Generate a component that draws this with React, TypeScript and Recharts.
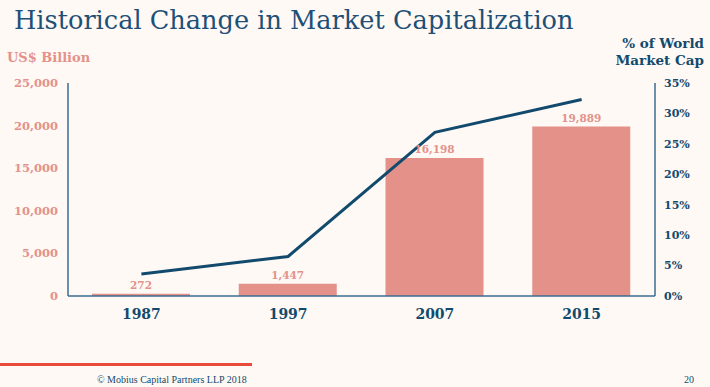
import { Bar, ComposedChart, LabelList, Line, XAxis, YAxis } from "recharts";

const years = ["1987", "1997", "2007", "2015"];
const marketCap = [272, 1447, 16198, 19889];
const worldShare = [3.6, 6.5, 26.9, 32.3];

const capTicks = [0, 5000, 10000, 15000, 20000, 25000];
const shareTicks = [0, 5, 10, 15, 20, 25, 30, 35];

const data = years.map((year, i) => ({ year, cap: marketCap[i], share: worldShare[i] }));

const BG = "#fef9f5";
const SALMON = "#e4918a";
const NAVY = "#124a6e";
const AXIS = "#3d6d90";
const SERIF = "'DejaVu Serif', serif";
const FOOT = "'Liberation Serif', serif";

const fmt = (v: number) => v.toLocaleString("en-US");

const App = () => (
  <div
    style={{
      position: "absolute",
      left: 0,
      top: 0,
      width: 710,
      height: 387,
      background: BG,
      fontFamily: SERIF,
      overflow: "hidden"
    }}
  >
    <div
      style={{
        position: "absolute",
        left: 14,
        top: 5,
        fontSize: 26,
        lineHeight: "30px",
        color: "#1e5077",
        whiteSpace: "nowrap",
        transform: "scaleX(0.985)",
        transformOrigin: "left top"
      }}
    >
      Historical Change in Market Capitalization
    </div>
    <div
      style={{
        position: "absolute",
        left: 7,
        top: 50,
        fontSize: 13,
        lineHeight: "16px",
        fontWeight: "bold",
        color: SALMON,
        whiteSpace: "nowrap"
      }}
    >
      US$ Billion
    </div>
    <div
      style={{
        position: "absolute",
        right: 6,
        top: 35,
        fontSize: 13.5,
        fontWeight: "bold",
        color: NAVY,
        textAlign: "right",
        lineHeight: "17px",
        whiteSpace: "nowrap"
      }}
    >
      % of World
      <br />
      Market Cap
    </div>

    <div style={{ position: "absolute", left: 0, top: 0 }}>
      <ComposedChart
        width={710}
        height={387}
        data={data}
        margin={{ top: 83, right: 5, bottom: 61, left: 8 }}
        barSize={98}
      >
        <XAxis
          dataKey="year"
          axisLine={{ stroke: AXIS, strokeWidth: 1.5 }}
          tickLine={false}
          tickMargin={7}
          height={30}
          tick={{ fill: NAVY, fontSize: 14, fontWeight: "bold", fontFamily: SERIF }}
        />
        <YAxis
          yAxisId="cap"
          orientation="left"
          width={60}
          domain={[0, 25000]}
          ticks={capTicks}
          tickFormatter={fmt}
          axisLine={{ stroke: AXIS, strokeWidth: 1.5 }}
          tickLine={false}
          tickMargin={4}
          tick={{ fill: SALMON, fontSize: 11.5, fontWeight: "bold", fontFamily: SERIF }}
        />
        <YAxis
          yAxisId="share"
          orientation="right"
          width={50}
          domain={[0, 35]}
          ticks={shareTicks}
          tickFormatter={(v: number) => `${v}%`}
          axisLine={{ stroke: AXIS, strokeWidth: 1.5 }}
          tickLine={false}
          tickMargin={3}
          tick={{ fill: NAVY, fontSize: 11, fontWeight: "bold", fontFamily: SERIF }}
        />
        <Bar yAxisId="cap" dataKey="cap" fill={SALMON} isAnimationActive={false}>
          <LabelList
            dataKey="cap"
            position="top"
            offset={5}
            formatter={(v: number) => fmt(v)}
            style={{ fill: SALMON, fontSize: 10.5, fontWeight: "bold", fontFamily: SERIF }}
          />
        </Bar>
        <Line
          yAxisId="share"
          dataKey="share"
          stroke={NAVY}
          strokeWidth={3}
          dot={false}
          activeDot={false}
          type="linear"
          isAnimationActive={false}
        />
      </ComposedChart>
    </div>

    <div style={{ position: "absolute", left: 0, top: 363, width: 252, height: 3, background: "#e84b3a" }} />
    <div
      style={{
        position: "absolute",
        left: 97,
        top: 374,
        fontSize: 10,
        lineHeight: "12px",
        fontFamily: FOOT,
        color: NAVY,
        whiteSpace: "nowrap"
      }}
    >
      © Mobius Capital Partners LLP 2018
    </div>
    <div
      style={{ position: "absolute", left: 684, top: 374, fontSize: 10, lineHeight: "12px", fontFamily: FOOT, color: NAVY }}
    >
      20
    </div>
  </div>
);

export default App;
